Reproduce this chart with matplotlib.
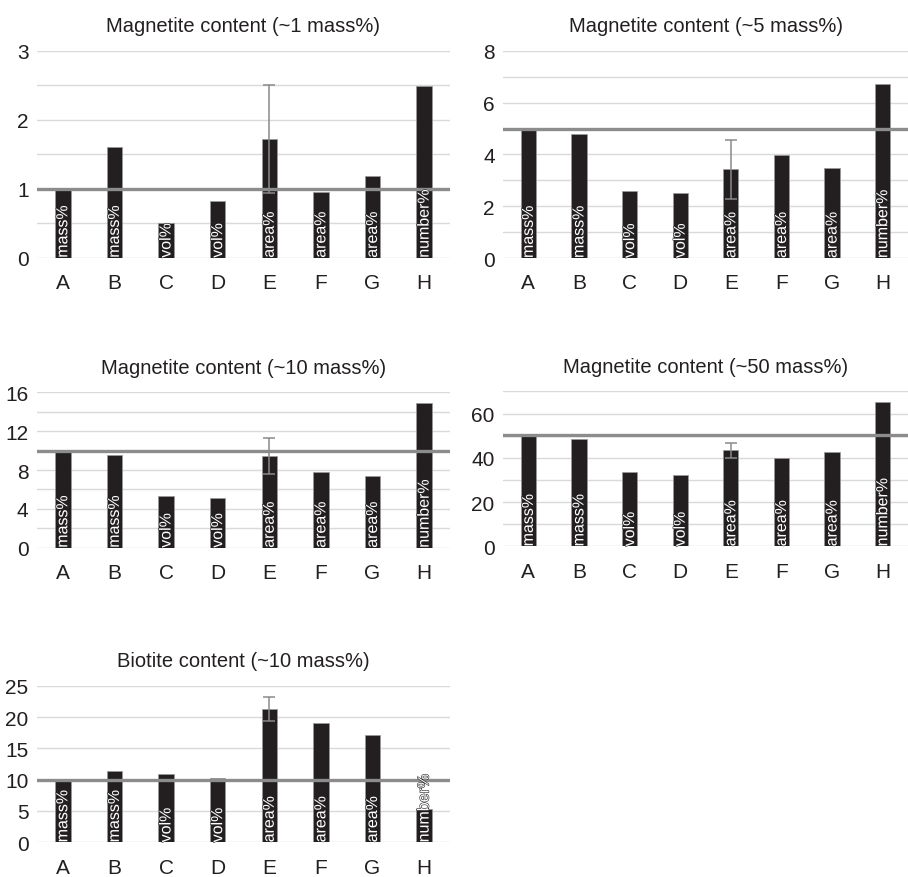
import numpy as np
import matplotlib
matplotlib.use('Agg')
import matplotlib.pyplot as plt
import matplotlib.patheffects as pe

plt.rcParams['font.family'] = ['Liberation Sans', 'DejaVu Sans']

# categories and the unit written inside each bar
categories = ['A', 'B', 'C', 'D', 'E', 'F', 'G', 'H']
units = ['mass%', 'mass%', 'vol%', 'vol%', 'area%', 'area%', 'area%', 'number%']

titles = ['Magnetite content (~1 mass%)', 'Magnetite content (~5 mass%)',
          'Magnetite content (~10 mass%)', 'Magnetite content (~50 mass%)',
          'Biotite content (~10 mass%)']

mag1 = [1.0, 1.61, 0.51, 0.82, 1.72, 0.95, 1.19, 2.49]
mag5 = [5.0, 4.80, 2.60, 2.50, 3.43, 3.99, 3.49, 6.73]
mag10 = [10.0, 9.58, 5.36, 5.12, 9.41, 7.76, 7.42, 14.94]
mag50 = [49.9, 48.4, 33.5, 32.3, 43.3, 39.8, 42.8, 65.0]
bio10 = [9.8, 11.44, 10.96, 10.27, 21.3, 19.0, 17.2, 5.32]
series = [mag1, mag5, mag10, mag50, bio10]

# error on E (only sample with an error bar)
err_E = [0.78, 1.14, 1.84, 3.5, 1.86]
# nominal content (grey line)
nominal = [1, 5, 10, 50.5, 10]

# axis settings: max, grid step, label step
ymax = [3, 8, 16, 70, 25]
grid_step = [0.5, 1, 2, 10, 5]
label_step = [1, 2, 4, 20, 5]

# axes boxes in figure fractions
boxes = [[0.0407, 0.7053, 0.4548, 0.2358],
         [0.554, 0.705, 0.446, 0.236],
         [0.0407, 0.375, 0.4548, 0.177],
         [0.554, 0.3766, 0.446, 0.1765],
         [0.0407, 0.0395, 0.4548, 0.1784]]

bar_color = '#231f20'
line_color = '#8c8c8c'
grid_color = '#d9d9d9'

fig = plt.figure(figsize=(9.08, 8.78), dpi=100)
x = np.arange(len(categories))
iE = categories.index('E')

for k in range(5):
    ax = fig.add_axes(boxes[k])
    vals = series[k]
    ax.bar(x, vals, width=0.3, color=bar_color, edgecolor='#9a9a9a', linewidth=0.5, zorder=2)
    ax.axhline(nominal[k], color=line_color, linewidth=2.4, zorder=3)
    ax.errorbar(x[iE], vals[iE], yerr=err_E[k], color='#8a8a8a', elinewidth=1.1,
                capsize=4, capthick=1.1, zorder=4)
    for i in range(len(categories)):
        ax.text(x[i], 0, units[i], rotation=90, ha='center', va='bottom', color='white',
                fontsize=11.5, zorder=5,
                path_effects=[pe.withStroke(linewidth=0.8, foreground=bar_color)])

    ticks = np.arange(0, ymax[k] + grid_step[k] / 2, grid_step[k])
    ax.set_yticks(ticks)
    labels = []
    for t in ticks:
        if abs(t / label_step[k] - round(t / label_step[k])) < 1e-6:
            labels.append('%g' % t)
        else:
            labels.append('')
    ax.set_yticklabels(labels)
    ax.set_ylim(0, ymax[k])
    ax.set_xlim(-0.5, len(categories) - 0.5)
    ax.set_xticks(x)
    ax.set_xticklabels(categories)
    ax.yaxis.grid(True, color=grid_color, linewidth=1)
    ax.set_axisbelow(True)
    for s in ax.spines.values():
        s.set_visible(False)
    ax.tick_params(axis='both', length=0, labelsize=15, colors='#231f20')
    ax.tick_params(axis='x', pad=11)
    ax.tick_params(axis='y', pad=6)
    ax.set_title(titles[k], fontsize=14.5, pad=14, color='#231f20')

plt.savefig('out.png', dpi=100)
